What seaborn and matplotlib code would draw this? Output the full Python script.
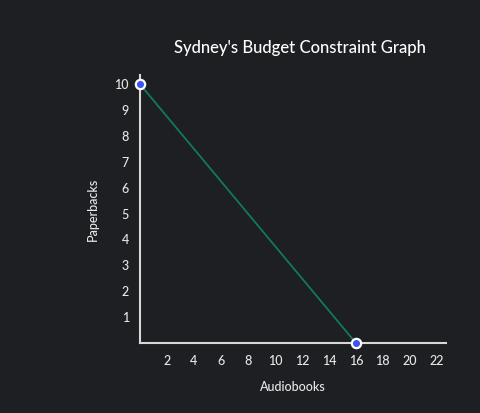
import matplotlib
matplotlib.use("Agg")
import matplotlib.pyplot as plt
import seaborn as sns
import pandas as pd

audiobooks = [0, 16]
paperbacks = [10, 0]
x_ticks = [2, 4, 6, 8, 10, 12, 14, 16, 18, 20, 22]
y_ticks = [1, 2, 3, 4, 5, 6, 7, 8, 9, 10]

BG = "#1e1f22"
FG = "#e8e8e8"

sns.set_theme(style="dark")
plt.rcParams["font.family"] = ["Lato", "DejaVu Sans"]

df = pd.DataFrame({"Audiobooks": audiobooks, "Paperbacks": paperbacks})

fig = plt.figure(figsize=(4.81, 4.13), dpi=100, facecolor=BG)
ax = fig.add_axes([0.291, 0.1695, 0.636, 0.6485])
ax.set_facecolor(BG)

sns.lineplot(data=df, x="Audiobooks", y="Paperbacks", ax=ax, color="#0f7a5c",
             linewidth=1.3, zorder=2)
sns.scatterplot(data=df, x="Audiobooks", y="Paperbacks", ax=ax, color="#3b55f0",
                edgecolor="white", linewidth=1.6, s=45, zorder=3, clip_on=False)

ax.set_xlim(0, 22.67)
ax.set_ylim(0, 10.35)
ax.set_xticks(x_ticks)
ax.set_yticks(y_ticks)
ax.grid(False)
ax.tick_params(axis="both", length=0, colors=FG, labelsize=9)
ax.tick_params(axis="x", pad=9)
ax.tick_params(axis="y", pad=8)
for lbl in ax.get_xticklabels() + ax.get_yticklabels():
    lbl.set_fontweight("medium")
for s in ["top", "right"]:
    ax.spines[s].set_visible(False)
for s in ["left", "bottom"]:
    ax.spines[s].set_visible(True)
    ax.spines[s].set_color("#d8d8d8")
    ax.spines[s].set_linewidth(1.5)

ax.set_xlabel("Audiobooks", color=FG, fontsize=9, labelpad=10, fontweight="medium")
ax.set_ylabel("Paperbacks", color=FG, fontsize=9, labelpad=11, fontweight="medium")
fig.text(0.624, 0.884, "Sydney's Budget Constraint Graph", color="white",
         fontsize=12, ha="center", va="center", fontweight="medium")

fig.savefig("out.png", dpi=100, facecolor=BG)
